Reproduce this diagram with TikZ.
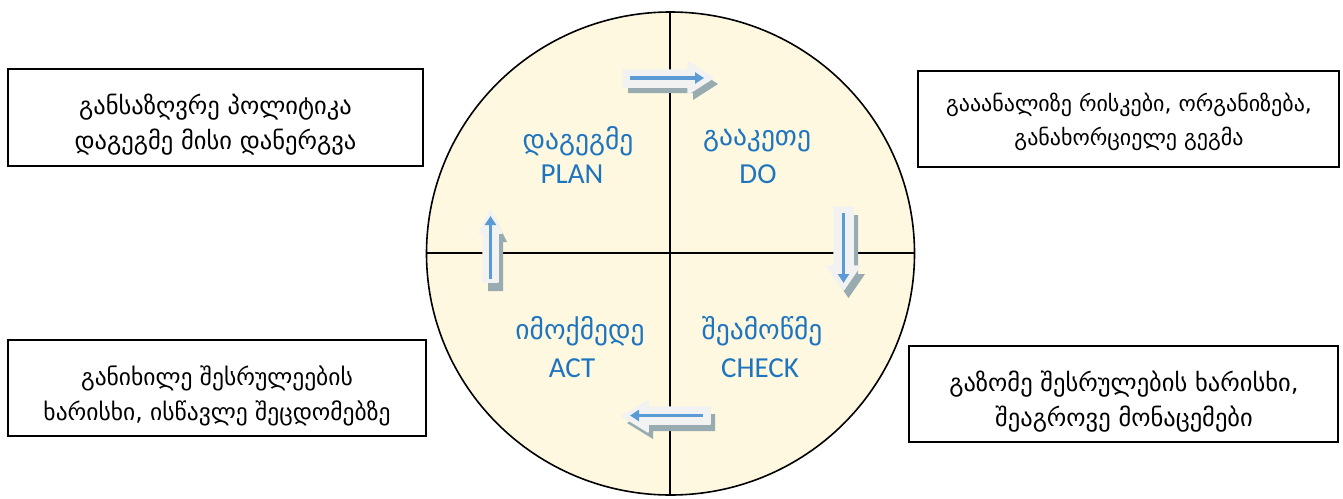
\documentclass[tikz,border=0pt]{standalone}
\usepackage{fontspec}
\setmainfont{DejaVu Sans}
\newfontfamily\lat{Carlito}
\usetikzlibrary{arrows.meta}
\definecolor{cream}{HTML}{FDF8DF}
\definecolor{lblue}{HTML}{1F74C0}
\definecolor{arrowblue}{HTML}{5B9BD5}
\definecolor{shade}{HTML}{97ABB0}
\definecolor{arrowwhite}{HTML}{F2F2F2}
\tikzset{
  textbox/.style={draw=black, line width=1.6pt, fill=white},
  boxtext/.style={font=\fontsize{24.5}{35}\selectfont, align=center, text=black},
  georlabel/.style={font=\fontsize{27.5}{30}\selectfont, text=lblue},
  latlabel/.style={font=\lat\fontsize{29}{30}\selectfont, text=lblue},
  arrowshadow/.style={fill=shade, draw=none},
  arrowbody/.style={fill=arrowwhite, draw=arrowwhite, line width=1.5pt, line join=round},
  innerarrow/.style={draw=arrowblue, line width=3.5pt, -{Triangle[length=9pt,width=11pt]}}
}
\begin{document}
\begin{tikzpicture}[x=1pt,y=-1pt]
\useasboundingbox (0,0) rectangle (1343,498);
% circle
\draw[fill=cream, line width=1.6pt] (670.5,253.5) ellipse [x radius=244, y radius=241.5];
\coordinate (ctop) at (670,12);
\coordinate (cbot) at (670,495);
\coordinate (cleft) at (426.5,253);
\coordinate (cright) at (914.5,253);
\draw[line width=2pt] (ctop) -- (cbot);
\draw[line width=2pt] (cleft) -- (cright);
% boxes
\draw[textbox] (8,69) rectangle (423,166);
\node[boxtext] (tl) at (215.5,124.5) {განსაზღვრე პოლიტიკა\\დაგეგმე მისი დანერგვა};
\draw[textbox] (918,71) rectangle (1339,167);
\node[boxtext, font=\fontsize{22}{34}\selectfont] (tr) at (1129,122) {გააანალიზე რისკები, ორგანიზება,\\განახორციელე გეგმა};
\draw[textbox] (8,340) rectangle (426,436);
\node[boxtext, font=\fontsize{23.5}{35}\selectfont] (bl) at (217,395.5) {განიხილე შესრულეების\\ხარისხი, ისწავლე შეცდომებზე};
\draw[textbox] (909,346) rectangle (1338,442);
\node[boxtext] (br) at (1124,402) {გაზომე შესრულების ხარისხი,\\შეაგროვე მონაცემები};
% circle labels
\node[georlabel] (g1) at (578,141) {დაგეგმე};
\node[latlabel] (l1) at (572,174) {PLAN};
\node[georlabel] (g2) at (757,141) {გააკეთე};
\node[latlabel] (l2) at (758,174) {DO};
\node[georlabel] (g3) at (580,331) {იმოქმედე};
\node[latlabel] (l3) at (572,368) {ACT};
\node[georlabel] (g4) at (762,331) {შეამოწმე};
\node[latlabel] (l4) at (760,368) {CHECK};
% top arrow (right)
\fill[arrowshadow, shift={(5,6)}] (623,70) -- (688,70) -- (688,62) -- (713,78) -- (688,94) -- (688,87) -- (623,87) -- cycle;
\draw[arrowbody] (623,70) -- (688,70) -- (688,62) -- (713,78) -- (688,94) -- (688,87) -- (623,87) -- cycle;
\coordinate (a1s) at (630,78); \coordinate (a1e) at (704,78);
\draw[innerarrow] (a1s) -- (a1e);
% right arrow (down)
\fill[arrowshadow, shift={(5,8)}] (834,207) -- (853,207) -- (853,266) -- (860,266) -- (843.5,290) -- (827,266) -- (834,266) -- cycle;
\draw[arrowbody] (834,207) -- (853,207) -- (853,266) -- (860,266) -- (843.5,290) -- (827,266) -- (834,266) -- cycle;
\coordinate (a2s) at (843.5,213); \coordinate (a2e) at (843.5,283);
\draw[innerarrow] (a2s) -- (a2e);
% bottom arrow (left)
\fill[arrowshadow, shift={(5,7)}] (710,407) -- (648,407) -- (648,401) -- (622,416) -- (648,432) -- (648,424) -- (710,424) -- cycle;
\draw[arrowbody] (710,407) -- (648,407) -- (648,401) -- (622,416) -- (648,432) -- (648,424) -- (710,424) -- cycle;
\coordinate (a3s) at (703,415.5); \coordinate (a3e) at (630,415.5);
\draw[innerarrow] (a3s) -- (a3e);
% left arrow (up)
\fill[arrowshadow, shift={(5,9)}] (483,282) -- (483,233) -- (479,233) -- (490.5,210) -- (502,233) -- (498,233) -- (498,282) -- cycle;
\draw[arrowbody] (483,282) -- (483,233) -- (479,233) -- (490.5,210) -- (502,233) -- (498,233) -- (498,282) -- cycle;
\coordinate (a4s) at (490.5,279); \coordinate (a4e) at (490.5,216);
\draw[innerarrow] (a4s) -- (a4e);
\end{tikzpicture}
\end{document}
